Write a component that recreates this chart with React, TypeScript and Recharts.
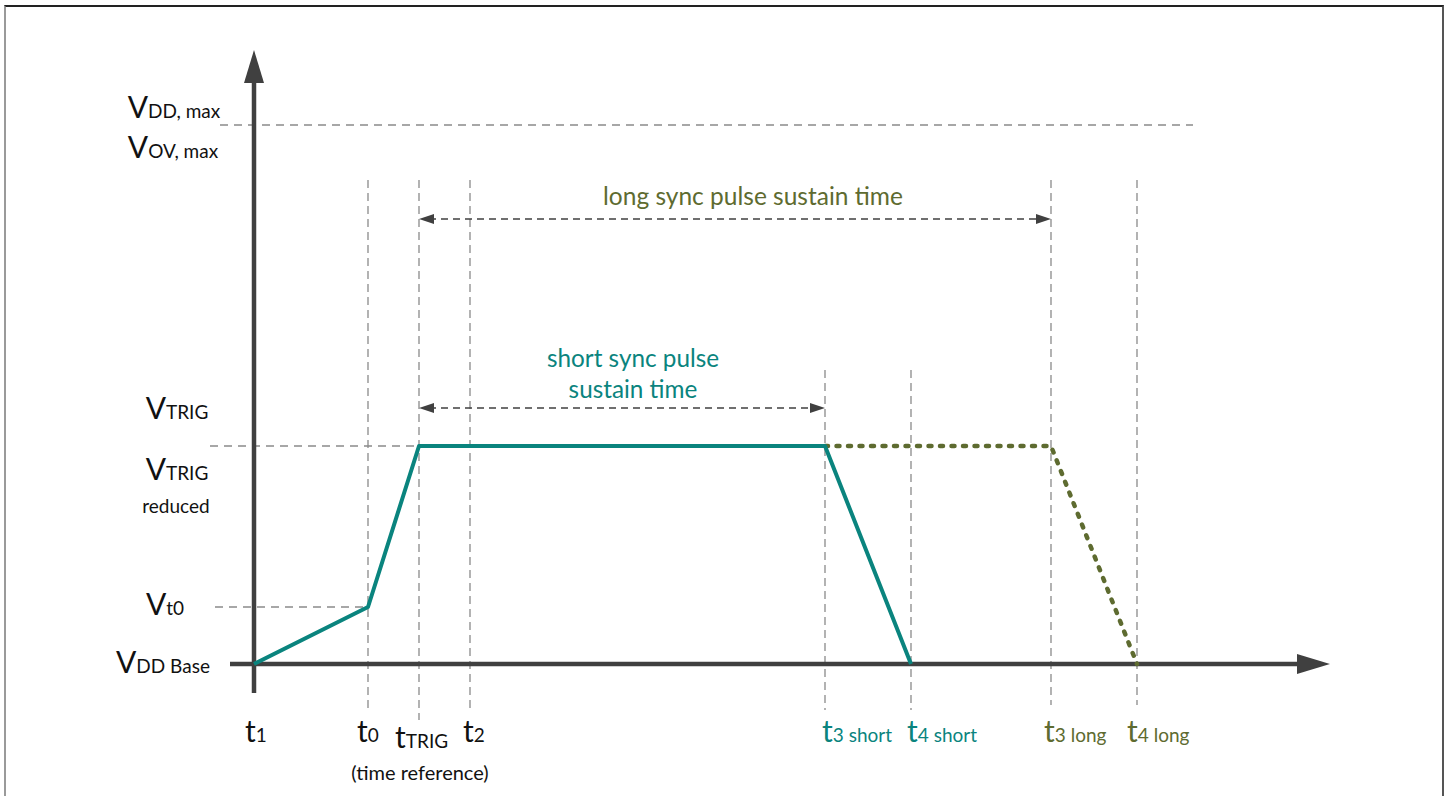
import React from 'react';
import { ComposedChart, XAxis, YAxis, Line, ReferenceLine, ReferenceDot } from 'recharts';

// ---------- data ----------
const timeNames = ['t1', 't0', 'tTRIG', 't2', 't3short', 't4short', 't3long', 't4long'];
const timeValues = [0, 11.4, 16.5, 21.6, 57.1, 65.7, 79.7, 88.3];
const timeTickMain = ['t', 't', 't', 't', 't', 't', 't', 't'];
const timeTickSub = ['1', '0', 'TRIG', '2', '3 short', '4 short', '3 long', '4 long'];

const levelNames = ['VDD Base', 'Vt0', 'VTRIG', 'VDD,max'];
const levelValues = [0, 0.57, 2.18, 5.39];

const shortPulseT = [0, 11.4, 16.5, 57.1, 65.7];
const shortPulseV = [0, 0.57, 2.18, 2.18, 0];
const longPulseT = [57.1, 79.7, 88.3];
const longPulseV = [2.18, 2.18, 0];

const longSustainLevel = 4.45;
const shortSustainLevel = 2.56;

// ---------- style ----------
const TEAL = '#0a847e';
const OLIVE = '#5e6b30';
const AXIS = '#404040';
const GUIDE = '#8a8a8a';
const INK = '#111111';
const FONT = "Lato, 'Open Sans', sans-serif";

const W = 1448;
const H = 796;
const X_DOMAIN: [number, number] = [-25.4, 119.4];
const Y_DOMAIN: [number, number] = [-1.32, 6.64];

const tv = (name: string) => timeValues[timeNames.indexOf(name)];
const lv = (name: string) => levelValues[levelNames.indexOf(name)];

const shortData = shortPulseT.map((t, i) => ({ t, v: shortPulseV[i] }));
const longData = longPulseT.map((t, i) => ({ t, v: longPulseV[i] }));

// guide extents (data units)
const guideTop: Record<string, number> = {
  t0: 4.84, tTRIG: 4.84, t2: 4.84, t3short: 2.94, t4short: 2.94, t3long: 4.84, t4long: 4.84,
};
const guideBottom: Record<string, number> = {
  t0: -0.46, tTRIG: -0.56, t2: -0.46, t3short: -0.46, t4short: -0.46, t3long: -0.41, t4long: -0.41,
};

type RichProps = {
  cx: number; cy: number; dx: number; dy: number; main: string; sub?: string;
  anchor?: 'start' | 'middle' | 'end'; fill?: string; mainSize?: number; subSize?: number;
};
const Rich = ({ cx, cy, dx, dy, main, sub, anchor = 'middle', fill = INK, mainSize = 30, subSize = 19 }: RichProps) => (
  <text x={cx + dx} y={cy + dy} textAnchor={anchor} fill={fill} fontFamily={FONT}>
    <tspan fontSize={mainSize}>{main}</tspan>
    {sub ? <tspan fontSize={subSize}>{sub}</tspan> : null}
  </text>
);

// offsets for bottom tick labels (px)
const tickOffset: Record<string, [number, number]> = {
  t1: [-9, 78], t0: [-11, 78], tTRIG: [-24, 84], t2: [-7, 78],
  t3short: [-3, 78], t4short: [-4, 78], t3long: [-7, 78], t4long: [-10, 78],
};
const tickColor = (name: string) =>
  name.indexOf('short') >= 0 ? TEAL : name.indexOf('long') >= 0 ? OLIVE : INK;

// left level labels
const levelLabels = [
  { main: 'V', sub: 'DD, max', level: 'VDD,max', dx: -80, dy: -7, size: 30 },
  { main: 'V', sub: 'OV, max', level: 'VDD,max', dx: -81, dy: 33, size: 30 },
  { main: 'V', sub: 'TRIG', level: 'VTRIG', dx: -77, dy: -27, size: 30 },
  { main: 'V', sub: 'TRIG', level: 'VTRIG', dx: -77, dy: 34, size: 30 },
  { main: 'reduced', sub: '', level: 'VTRIG', dx: -78, dy: 67, size: 19 },
  { main: 'V', sub: 't0', level: 'Vt0', dx: -89, dy: 8, size: 30 },
  { main: 'V', sub: 'DD Base', level: 'VDD Base', dx: -91, dy: 9, size: 30 },
];

const arrowLeft = (p: any) => (
  <path d={`M${p.cx},${p.cy} L${p.cx + 15},${p.cy - 5} L${p.cx + 15},${p.cy + 5} Z`} fill={AXIS} />
);
const arrowRight = (p: any) => (
  <path d={`M${p.cx},${p.cy} L${p.cx - 15},${p.cy - 5} L${p.cx - 15},${p.cy + 5} Z`} fill={AXIS} />
);
const bigArrowUp = (p: any) => (
  <path d={`M${p.cx},${p.cy} L${p.cx - 10},${p.cy + 33} L${p.cx + 10},${p.cy + 33} Z`} fill={AXIS} />
);
const bigArrowRight = (p: any) => (
  <path d={`M${p.cx},${p.cy} L${p.cx - 33},${p.cy - 10} L${p.cx - 33},${p.cy + 10} Z`} fill={AXIS} />
);

export default function App() {
  const t1 = tv('t1');
  const tTrig = tv('tTRIG');
  const t3s = tv('t3short');
  const t3l = tv('t3long');
  const base = lv('VDD Base');
  return (
    <div style={{ position: 'absolute', left: 0, top: 0, width: W, height: H, background: '#fff', overflow: 'hidden' }}>
      <div
        style={{
          position: 'absolute', left: 4, top: 5, width: 1436, height: 820,
          borderTop: '2px solid #222', borderLeft: '2px solid #9a9a9a', borderRight: '2px solid #555',
        }}
      />
      <div style={{ position: 'absolute', left: 0, top: 0 }}>
        <ComposedChart width={W} height={H} margin={{ top: 0, right: 0, bottom: 0, left: 0 }}>
          <XAxis type="number" dataKey="t" domain={X_DOMAIN} allowDataOverflow hide />
          <YAxis type="number" dataKey="v" domain={Y_DOMAIN} allowDataOverflow hide />

          {/* vertical guides */}
          {timeNames.filter((n) => n !== 't1').map((n) => (
            <ReferenceLine
              key={'vg-' + n}
              segment={[{ x: tv(n), y: guideTop[n] }, { x: tv(n), y: guideBottom[n] }]}
              stroke={GUIDE} strokeWidth={1.3} strokeDasharray="8 5"
            />
          ))}
          {/* horizontal guides */}
          <ReferenceLine segment={[{ x: -3.4, y: lv('VDD,max') }, { x: 93.9, y: lv('VDD,max') }]} stroke={GUIDE} strokeWidth={1.3} strokeDasharray="8 6" />
          <ReferenceLine segment={[{ x: -4.4, y: lv('VTRIG') }, { x: tTrig, y: lv('VTRIG') }]} stroke={GUIDE} strokeWidth={1.3} strokeDasharray="8 6" />
          <ReferenceLine segment={[{ x: -3.9, y: lv('Vt0') }, { x: tv('t0'), y: lv('Vt0') }]} stroke={GUIDE} strokeWidth={1.3} strokeDasharray="8 6" />

          {/* dimension arrows */}
          <ReferenceLine segment={[{ x: tTrig + 1, y: longSustainLevel }, { x: t3l - 1, y: longSustainLevel }]} stroke={AXIS} strokeWidth={1.4} strokeDasharray="7 5" />
          <ReferenceDot x={tTrig} y={longSustainLevel} r={0} shape={arrowLeft} />
          <ReferenceDot x={t3l} y={longSustainLevel} r={0} shape={arrowRight} />
          <ReferenceLine segment={[{ x: tTrig + 1, y: shortSustainLevel }, { x: t3s - 1, y: shortSustainLevel }]} stroke={AXIS} strokeWidth={1.4} strokeDasharray="7 5" />
          <ReferenceDot x={tTrig} y={shortSustainLevel} r={0} shape={arrowLeft} />
          <ReferenceDot x={t3s} y={shortSustainLevel} r={0} shape={arrowRight} />

          {/* axes */}
          <ReferenceLine segment={[{ x: -2.4, y: base }, { x: 105, y: base }]} stroke={AXIS} strokeWidth={4.5} />
          <ReferenceDot x={107.6} y={base} r={0} shape={bigArrowRight} />
          <ReferenceLine segment={[{ x: t1, y: -0.29 }, { x: t1, y: 5.85 }]} stroke={AXIS} strokeWidth={4.5} />
          <ReferenceDot x={t1} y={6.14} r={0} shape={bigArrowUp} />

          {/* pulses */}
          <Line data={longData} dataKey="v" type="linear" stroke={OLIVE} strokeWidth={4.5}
            strokeDasharray="3 8.5" strokeLinecap="round" dot={false} activeDot={false} isAnimationActive={false} />
          <Line data={shortData} dataKey="v" type="linear" stroke={TEAL} strokeWidth={4}
            strokeLinejoin="round" dot={false} activeDot={false} isAnimationActive={false} />

          {/* level labels */}
          {levelLabels.map((l, i) => (
            <ReferenceDot key={'ll-' + i} x={t1} y={lv(l.level)} r={0}
              shape={(p: any) => (
                <Rich cx={p.cx} cy={p.cy} dx={l.dx} dy={l.dy} main={l.main} sub={l.sub} mainSize={l.size} />
              )} />
          ))}

          {/* time labels */}
          {timeNames.map((n, i) => (
            <ReferenceDot key={'tl-' + n} x={timeValues[i]} y={base} r={0}
              shape={(p: any) => (
                <Rich cx={p.cx} cy={p.cy} dx={tickOffset[n][0]} dy={tickOffset[n][1]} anchor="start"
                  main={timeTickMain[i]} sub={timeTickSub[i]} fill={tickColor(n)} />
              )} />
          ))}
          <ReferenceDot x={tTrig} y={base} r={0}
            shape={(p: any) => (
              <Rich cx={p.cx} cy={p.cy} dx={1} dy={116} main="(time reference)" mainSize={20} />
            )} />

          {/* dimension labels */}
          <ReferenceDot x={(tTrig + t3l) / 2} y={longSustainLevel} r={0}
            shape={(p: any) => (
              <Rich cx={p.cx} cy={p.cy} dx={18} dy={-14} main="long sync pulse sustain time" mainSize={24.5} fill={OLIVE} />
            )} />
          <ReferenceDot x={(tTrig + t3s) / 2} y={shortSustainLevel} r={0}
            shape={(p: any) => (
              <Rich cx={p.cx} cy={p.cy} dx={11} dy={-41} main="short sync pulse" mainSize={24.3} fill={TEAL} />
            )} />
          <ReferenceDot x={(tTrig + t3s) / 2} y={shortSustainLevel} r={0}
            shape={(p: any) => (
              <Rich cx={p.cx} cy={p.cy} dx={11} dy={-10} main="sustain time" mainSize={24.3} fill={TEAL} />
            )} />
        </ComposedChart>
      </div>
    </div>
  );
}
